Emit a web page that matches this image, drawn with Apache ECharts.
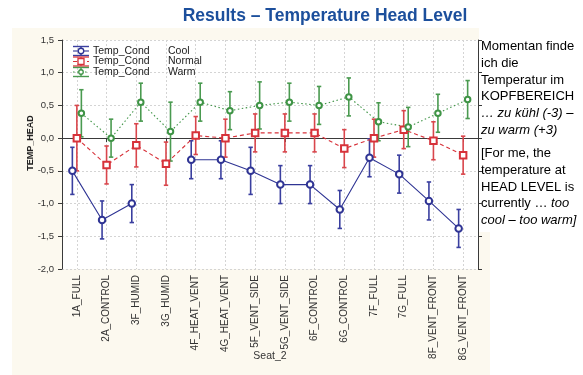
<!DOCTYPE html>
<html><head><meta charset="utf-8">
<script src="https://cdn.jsdelivr.net/npm/echarts@6/dist/echarts.min.js"></script>
<style>html,body{margin:0;padding:0;background:#fff}#c{width:583px;height:375px}</style>
</head><body><div id="c"></div>
<script>
// ---- data ----
const categories = ['1A_FULL','2A_CONTROL','3F_HUMID','3G_HUMID','4F_HEAT_VENT','4G_HEAT_VENT','5F_VENT_SIDE','5G_VENT_SIDE','6F_CONTROL','6G_CONTROL','7F_FULL','7G_FULL','8F_VENT_FRONT','8G_VENT_FRONT'];
const seriesLabels = ['Cool','Normal','Warm'];
const legendVar = 'Temp_Cond';
const coolMean   = [-0.50,-1.25,-1.00, null,-0.33,-0.33,-0.50,-0.71,-0.71,-1.09,-0.30,-0.55,-0.96,-1.38];
const coolErr    = [ 0.36, 0.29, 0.29, null, 0.29, 0.29, 0.36, 0.29, 0.29, 0.29, 0.29, 0.29, 0.29, 0.29];
const normalMean = [ 0.00,-0.41,-0.11,-0.39, 0.04, 0.00, 0.08, 0.08, 0.08,-0.16, 0.00, 0.13,-0.04,-0.26];
const normalErr  = [ 0.50, 0.29, 0.33, 0.33, 0.29, 0.29, 0.29, 0.29, 0.29, 0.29, 0.29, 0.29, 0.29, 0.29];
const warmMean   = [ 0.38, 0.00, 0.55, 0.10, 0.55, 0.42, 0.50, 0.55, 0.50, 0.63, 0.25, 0.17, 0.38, 0.59];
const warmErr    = [ 0.36, 0.29, 0.29, 0.45, 0.29, 0.29, 0.36, 0.29, 0.29, 0.29, 0.29, 0.30, 0.29, 0.29];
const yMin = -2.0, yMax = 1.5, yStep = 0.5;
const titleText = 'Results \u2013 Temperature Head Level';
const yName = 'TEMP_HEAD';
const xName = 'Seat_2';

// ---- styling ----
const FONT = 'Arial, "Liberation Sans", sans-serif';
const P = {left:62, right:105, top:40, bottom:106};
const groups = [
  {mean:coolMean,   err:coolErr,   color:'#2f3494', bar:'#3a3f9f', lineType:'solid',  lw:1.1, symbol:'emptyCircle', size:6.5, off:0},
  {mean:normalMean, err:normalErr, color:'#d7323a', bar:'#d9464c', lineType:[4,3],    lw:1.1, symbol:'emptyRect',   size:6.5, off:0},
  {mean:warmMean,   err:warmErr,   color:'#3f9446', bar:'#4a9a50', lineType:[1.5,2.5],lw:1.1, symbol:'emptyCircle', size:5.5, off:0}
];
groups[0].off = -4.5; groups[2].off = 4.5;

const chart = echarts.init(document.getElementById('c'), null, {renderer:'canvas'});
const fmt = v => v.toFixed(1).replace('.', ',');

const grids = [], xAxes = [], yAxes = [], series = [];
grids.push({left:P.left, right:P.right, top:P.top, bottom:P.bottom, show:true, backgroundColor:'#ffffff', borderWidth:0, containLabel:false, outerBoundsMode:'none'});
const axisLine = {show:true, lineStyle:{color:'#3a3a3a', width:1}};
const gridLine = {show:true, lineStyle:{color:'#d4d4d4', width:1, type:[2,2]}};
xAxes.push({type:'category', gridIndex:0, data:categories, boundaryGap:true, position:'bottom',
  axisLine, axisTick:{show:true, alignWithLabel:true, inside:false, length:4, lineStyle:{color:'#3a3a3a'}},
  splitLine:Object.assign({alignWithLabel:true}, gridLine),
  axisLabel:{rotate:90, margin:6, fontFamily:FONT, fontSize:10, color:'#333'},
  name:xName, nameLocation:'middle', nameGap:82, nameMoveOverlap:false,
  nameTextStyle:{fontFamily:FONT, fontSize:10.5, color:'#333'}});
xAxes.push({type:'category', gridIndex:0, data:categories, boundaryGap:true, position:'top',
  axisLine, axisTick:{show:true, alignWithLabel:true, length:4, lineStyle:{color:'#3a3a3a'}},
  axisLabel:{show:false}, splitLine:{show:false}});
yAxes.push({type:'value', gridIndex:0, min:yMin, max:yMax, interval:yStep, position:'left',
  axisLine, axisTick:{show:true, length:4, lineStyle:{color:'#3a3a3a'}},
  splitLine:gridLine,
  axisLabel:{formatter:fmt, margin:8, fontFamily:FONT, fontSize:9.5, color:'#333'}});
yAxes.push({type:'value', gridIndex:0, min:yMin, max:yMax, interval:yStep, position:'right',
  axisLine, axisTick:{show:true, length:4, lineStyle:{color:'#3a3a3a'}},
  splitLine:{show:false}, axisLabel:{show:false}});
[groups[0], groups[2]].forEach((g, k) => {
  const gi = k + 1;
  grids.push({left:P.left + g.off, right:P.right - g.off, top:P.top, bottom:P.bottom, show:false, containLabel:false, outerBoundsMode:'none'});
  xAxes.push({type:'category', gridIndex:gi, data:categories, boundaryGap:true, show:false});
  yAxes.push({type:'value', gridIndex:gi, min:yMin, max:yMax, interval:yStep, show:false});
});
const axisIdx = [{x:2,y:2},{x:0,y:0},{x:3,y:3}];

groups.forEach((g, k) => {
  const ai = axisIdx[k];
  const barData = categories.map((c, i) => g.mean[i] == null ? [i, null, null] : [i, g.mean[i] - g.err[i], g.mean[i] + g.err[i]]);
  series.push({
    type:'custom', xAxisIndex:ai.x, yAxisIndex:ai.y, z:2, silent:true,
    encode:{x:0, y:[1,2]}, data:barData,
    renderItem:(params, api) => {
      const lo = api.value(1), hi = api.value(2);
      if (lo == null || isNaN(lo)) return null;
      const a = api.coord([api.value(0), hi]), b = api.coord([api.value(0), lo]);
      const w = 2.2, st = {stroke:g.bar, lineWidth:1.6};
      return {type:'group', children:[
        {type:'line', shape:{x1:a[0], y1:a[1], x2:b[0], y2:b[1]}, style:st},
        {type:'line', shape:{x1:a[0]-w, y1:a[1], x2:a[0]+w, y2:a[1]}, style:st},
        {type:'line', shape:{x1:b[0]-w, y1:b[1], x2:b[0]+w, y2:b[1]}, style:st}
      ]};
    }
  });
  series.push({
    type:'line', xAxisIndex:ai.x, yAxisIndex:ai.y, z:3, silent:true, data:g.mean,
    connectNulls:false, symbol:g.symbol, symbolSize:g.size, showAllSymbol:true,
    lineStyle:{color:g.color, width:g.lw, type:g.lineType},
    itemStyle:{color:g.color, borderColor:g.color, borderWidth:1.3}, animation:false
  });
});

const graphic = [
  {type:'rect', shape:{x:12, y:28, width:478, height:347}, style:{fill:'#fcf9ef'}, z:-10, silent:true},
  {type:'rect', shape:{x:479, y:28, width:104, height:204}, style:{fill:'#ffffff'}, z:-9, silent:true},
  {type:'text', x:325, y:16, style:{text:titleText, font:'bold 17.5px ' + FONT, fill:'#1c4f9c', align:'center', verticalAlign:'middle'}},
  {type:'text', x:31, y:143, rotation:Math.PI/2, style:{text:yName, font:'bold 9px ' + FONT, fill:'#222', align:'center', verticalAlign:'middle'}}
];
const legendY = [51, 61.5, 72];
groups.forEach((g, k) => {
  const cy = legendY[k], cx = 81, hw = 8, h = 4.5;
  const st = {stroke:g.bar, lineWidth:1.4};
  graphic.push({type:'line', z:50, shape:{x1:cx-hw, y1:cy-h, x2:cx+hw, y2:cy-h}, style:st});
  graphic.push({type:'line', z:50, shape:{x1:cx-hw, y1:cy+h, x2:cx+hw, y2:cy+h}, style:st});
  graphic.push({type:'line', z:50, shape:{x1:cx, y1:cy-h, x2:cx, y2:cy+h}, style:st});
  graphic.push({type:'line', z:50, shape:{x1:cx-hw, y1:cy, x2:cx+hw, y2:cy}, style:{stroke:g.color, lineWidth:1.1, lineDash:g.lineType === 'solid' ? null : g.lineType}});
  if (g.symbol === 'emptyRect') {
    graphic.push({type:'rect', z:51, shape:{x:cx-3, y:cy-3, width:6, height:6}, style:{fill:'#fff', stroke:g.color, lineWidth:1.3}});
  } else {
    graphic.push({type:'circle', z:51, shape:{cx:cx, cy:cy, r:g.size/2 - 0.5}, style:{fill:'#fff', stroke:g.color, lineWidth:1.3}});
  }
  graphic.push({type:'text', z:51, x:93, y:cy, style:{text:legendVar, font:'10.5px ' + FONT, fill:'#222', verticalAlign:'middle'}});
  graphic.push({type:'text', z:51, x:168, y:cy, style:{text:seriesLabels[k], font:'10.5px ' + FONT, fill:'#222', verticalAlign:'middle'}});
});
const rich = {
  n:{fontFamily:FONT, fontSize:13, lineHeight:16.8, color:'#2a2a2a'},
  i:{fontFamily:FONT, fontSize:13, fontStyle:'italic', lineHeight:16.8, color:'#2a2a2a'}
};
graphic.push({type:'text', x:481, y:38, style:{
  text:'{n|Momentan finde}\n{n|ich die}\n{n|Temperatur im}\n{n|KOPFBEREICH}\n{i|\u2026 zu k\u00fchl (-3) \u2013}\n{i|zu warm (+3)}',
  rich, verticalAlign:'top', align:'left'}});
graphic.push({type:'text', x:481, y:145, style:{
  text:'{n|[For me, the}\n{n|temperature at}\n{n|HEAD LEVEL is}\n{n|currently \u2026 }{i|too}\n{i|cool \u2013 too warm]}',
  rich, verticalAlign:'top', align:'left'}});

chart.setOption({
  animation:false,
  backgroundColor:'#ffffff',
  grid:grids, xAxis:xAxes, yAxis:yAxes, series, graphic
});
</script></body></html>
